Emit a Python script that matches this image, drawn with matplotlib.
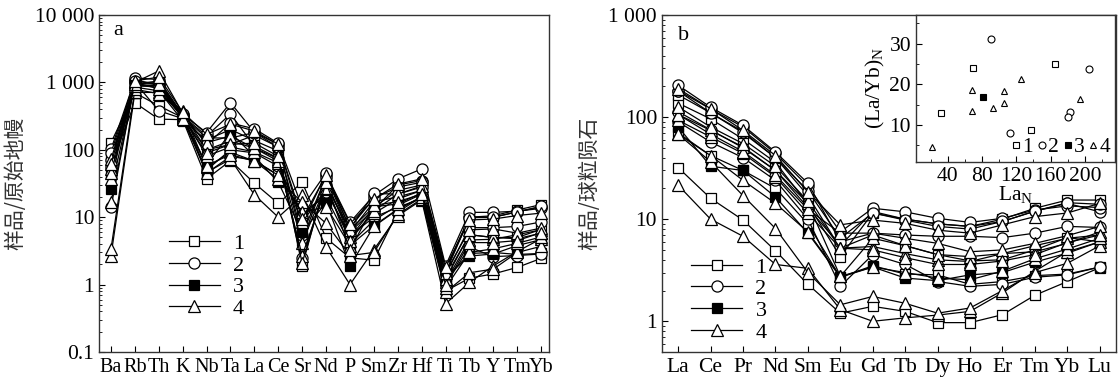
import matplotlib
matplotlib.use("Agg")
import matplotlib.pyplot as plt
from matplotlib.ticker import NullFormatter, MultipleLocator, LogLocator

plt.rcParams["font.family"] = ["Liberation Serif", "DejaVu Serif"]
plt.rcParams["mathtext.fontset"] = "custom"
plt.rcParams["mathtext.rm"] = "Liberation Serif"
plt.rcParams["mathtext.it"] = "Liberation Serif"

# ---- data -------------------------------------------------------------
spider_elems = ["Ba", "Rb", "Th", "K", "Nb", "Ta", "La", "Ce", "Sr", "Nd",
                "P", "Sm", "Zr", "Hf", "Ti", "Tb", "Y", "Tm", "Yb"]
ree_elems = ["La", "Ce", "Pr", "Nd", "Sm", "Eu", "Gd", "Tb", "Dy", "Ho",
             "Er", "Tm", "Yb", "Lu"]

# sample group (1..4) for each sample
groups = [1, 1, 1, 1, 2, 2, 2, 2, 2, 3, 4, 4, 4, 4, 4, 4, 4, 4]

# primitive-mantle normalised trace elements (panel a)
spider = [
    [60, 500, 285, 280, 37, 69, 32, 16, 33, 4.9, 2.5, 2.3, 12, 20, 0.8, 1.25, 1.44, 1.8, 2.45],
    [128, 700, 450, 300, 45, 80, 70, 42, 12, 20, 4, 9, 15, 22, 1.2, 2.9, 3.0, 2.8, 2.9],
    [45, 850, 750, 270, 140, 200, 137, 96, 1.9, 36, 5, 14, 25, 30, 1.6, 10, 10.5, 12.8, 15.4],
    [80, 900, 900, 300, 100, 120, 165, 110, 4.5, 40, 6, 17, 20, 25, 1.3, 5.5, 5, 5, 6.6],
    [14, 1000, 380, 290, 50, 100, 90, 57, 10, 24, 5.3, 10, 14, 19, 1.0, 3.6, 2.6, 2.7, 2.85],
    [102, 1100, 900, 320, 160, 340, 113, 75, 2.5, 30, 6, 13, 30, 35, 1.7, 10, 10, 12, 14.3],
    [70, 1170, 1100, 330, 180, 500, 182, 120, 8, 44, 8.4, 21, 37, 52, 1.9, 11.8, 11.8, 12.3, 13.5],
    [55, 950, 1000, 310, 150, 150, 180, 110, 5.5, 40, 7, 19, 28, 33, 1.5, 9.8, 10, 12, 14.5],
    [90, 1050, 950, 340, 120, 250, 205, 125, 14, 45.5, 6.7, 22.5, 22, 28, 1.4, 7, 7, 7.3, 8.5],
    [26, 900, 850, 300, 60, 180, 80, 33, 6, 16.5, 1.9, 7.3, 13, 20, 1.3, 2.65, 2.85, 3.8, 4.65],
    [2.7, 710, 710, 330, 46, 73, 21.5, 10, 21, 3.6, 1.0, 3.3, 10.5, 18, 0.52, 1.08, 1.9, 3.1, 4.8],
    [3.4, 790, 680, 380, 55, 92, 68, 36.5, 16.6, 8.1, 2.7, 3.0, 11, 18.6, 0.77, 1.5, 1.7, 3.0, 3.7],
    [16.6, 1000, 800, 300, 58, 85, 68, 42, 11.8, 14.3, 3.8, 7.5, 13.2, 20, 0.9, 3.0, 3.4, 4.1, 5.1],
    [37, 950, 1050, 320, 81, 110, 93, 64, 8.4, 26, 5, 11.4, 18.6, 25, 1.1, 4.6, 4.7, 5.5, 6.5],
    [52, 1000, 1480, 350, 100, 135, 106, 74, 4.2, 30, 6.5, 14.3, 15.7, 23, 1.2, 5.5, 5, 4.8, 5.8],
    [73, 880, 900, 310, 128, 160, 106, 68, 2.7, 27, 4.5, 12.5, 22, 29, 1.5, 6.5, 6.7, 5.8, 6.9],
    [45, 950, 950, 290, 90, 120, 126, 80, 2.1, 33, 3.3, 15, 17, 22, 1.0, 4.2, 4.2, 4.5, 5.9],
    [62, 1050, 1200, 360, 170, 240, 190, 121, 9.5, 42, 8, 18.5, 31, 37, 1.8, 9.1, 9.4, 10.6, 11.5],
]

# chondrite normalised REE (panel b)
ree = [
    [32, 16, 9.8, 4.9, 2.3, 1.2, 1.4, 1.25, 0.97, 0.97, 1.16, 1.8, 2.45, 3.35],
    [70, 42, 30, 20, 9, 2.7, 3.5, 2.9, 2.85, 2.3, 2.45, 2.8, 2.9, 3.4],
    [137, 96, 61, 36, 14, 4.3, 11.5, 10, 9, 8.5, 10, 12.8, 15.4, 15.4],
    [165, 110, 70, 40, 17, 5.2, 7, 5.5, 4.5, 3.9, 4.0, 5, 6.6, 6.0],
    [90, 57, 40, 24, 10, 2.2, 4.5, 3.6, 2.45, 2.2, 2.3, 2.7, 2.85, 3.4],
    [113, 75, 50, 30, 13, 5.5, 11.9, 10, 9, 8.5, 9.5, 12, 14.3, 11.8],
    [182, 120, 80, 44, 21, 7.5, 12.8, 11.8, 10.2, 9.3, 10.2, 12.3, 13.5, 13],
    [180, 110, 72, 40, 19, 6.5, 11.5, 9.8, 8.5, 8, 9.5, 12, 14.5, 14],
    [205, 125, 83, 45.5, 22.5, 6, 7.3, 7, 6.8, 6.8, 6.6, 7.3, 8.5, 8.3],
    [80, 33, 30, 16.5, 7.3, 2.7, 3.4, 2.65, 2.5, 2.85, 3.0, 3.8, 4.65, 6],
    [21.5, 10, 6.8, 3.6, 3.3, 1.3, 1.0, 1.08, 1.15, 1.25, 1.9, 3.1, 4.8, 6],
    [68, 36.5, 17, 8.1, 3.0, 1.45, 1.75, 1.5, 1.2, 1.35, 2.0, 3.0, 3.7, 5.5],
    [68, 42, 24, 14.3, 7.5, 2.75, 3.4, 3.0, 2.65, 2.55, 3.1, 4.1, 5.1, 6.5],
    [93, 64, 44, 26, 11.4, 5.2, 5.4, 4.6, 4.0, 3.85, 4.6, 5.5, 6.5, 7],
    [106, 74, 51, 30, 14.3, 2.75, 6.5, 5.5, 4.5, 4.3, 4.6, 4.8, 5.8, 7.5],
    [106, 68, 46, 27, 12.5, 7.3, 7.3, 6.5, 5.8, 4.8, 5.0, 5.8, 6.9, 8.5],
    [126, 80, 55, 33, 15, 5.2, 5.0, 4.2, 3.6, 3.6, 3.9, 4.5, 5.9, 7],
    [190, 121, 74, 42, 18.5, 8.8, 9.8, 9.1, 7.8, 7.3, 8.8, 10.6, 11.5, 14.3],
]

# inset: La_N vs (La/Yb)_N
inset_la = [32, 70, 137, 165, 90, 113, 182, 180, 205, 81,
            22, 68, 68, 93, 106, 106, 126, 194]
inset_layb = [13, 24, 8.8, 25, 31, 8.1, 13.3, 12, 23.8, 17,
              4.5, 18.6, 13.4, 14.2, 18.4, 15.3, 21.2, 16.5]

# ---- styles -------------------------------------------------------------
marker_of = {1: "s", 2: "o", 3: "s", 4: "^"}
face_of = {1: "white", 2: "white", 3: "black", 4: "white"}
size_of = {1: 7, 2: 8, 3: 7, 4: 8.5}
TICK_FS = 15.5
CJK = ["Noto Sans CJK SC", "DejaVu Sans"]

fig = plt.figure(figsize=(11.18, 3.81), dpi=100)
ax_a = fig.add_axes([0.0886, 0.0761, 0.4025, 0.8845])
ax_b = fig.add_axes([0.5921, 0.0761, 0.4061, 0.8845])


def draw_lines(ax, rows, n):
    xs = list(range(n))
    seen = set()
    for g, row in zip(groups, rows):
        lab = str(g) if g not in seen else None
        seen.add(g)
        ax.plot(xs, row, color="black", lw=0.9, marker=marker_of[g],
                ms=size_of[g], mfc=face_of[g], mec="black", mew=0.9,
                label=lab, zorder=2)


def style_main(ax):
    ax.set_yscale("log")
    ax.tick_params(which="both", direction="in", top=False, right=False,
                   labelsize=TICK_FS, colors="black")
    ax.tick_params(which="major", length=4)
    ax.tick_params(which="minor", length=2)
    ax.tick_params(axis="x", pad=4)
    for sp in ax.spines.values():
        sp.set_color("#333333")
        sp.set_linewidth(1.0)


draw_lines(ax_a, spider, len(spider_elems))
style_main(ax_a)
ax_a.set_xlim(-0.5, 18.33)
ax_a.set_ylim(0.1, 10000)
ax_a.set_xticks(range(len(spider_elems)))
ax_a.set_xticklabels(spider_elems, fontsize=14.5)
ax_a.set_yticks([0.1, 1, 10, 100, 1000, 10000])
ax_a.set_yticklabels(["0.1", "1", "10", "100", "1 000", "10 000"])
ax_a.yaxis.set_minor_locator(LogLocator(base=10, subs=range(2, 10)))
ax_a.yaxis.set_minor_formatter(NullFormatter())
ax_a.set_ylabel("样品/原始地幔", family=CJK, fontsize=15, color="#333333",
                labelpad=6)
ax_a.text(0.042, 0.953, "a", transform=ax_a.transAxes, fontsize=16,
          va="center", ha="center")
ax_a.legend(loc="center left", bbox_to_anchor=(0.11, 0.225), frameon=False,
            fontsize=16, handlelength=2.3, handletextpad=0.6,
            labelspacing=0.05)

draw_lines(ax_b, ree, len(ree_elems))
style_main(ax_b)
ax_b.set_xlim(-0.5, 13.5)
ax_b.set_ylim(0.5, 1000)
ax_b.set_xticks(range(len(ree_elems)))
ax_b.set_xticklabels(ree_elems)
ax_b.set_yticks([1, 10, 100, 1000])
ax_b.set_yticklabels(["1", "10", "100", "1 000"])
ax_b.yaxis.set_minor_locator(LogLocator(base=10, subs=range(2, 10)))
ax_b.yaxis.set_minor_formatter(NullFormatter())
ax_b.set_ylabel("样品/球粒陨石", family=CJK, fontsize=15, color="#333333",
                labelpad=6)
ax_b.text(0.048, 0.94, "b", transform=ax_b.transAxes, fontsize=16,
          va="center", ha="center")
ax_b.legend(loc="center left", bbox_to_anchor=(0.02, 0.155), frameon=False,
            fontsize=16, handlelength=2.3, handletextpad=0.6,
            labelspacing=0.05)

# ---- inset ----------------------------------------------------------------
ax_i = fig.add_axes([0.8193, 0.5756, 0.178, 0.385])
seen = set()
for g, x, y in zip(groups, inset_la, inset_layb):
    lab = str(g) if g not in seen else None
    seen.add(g)
    ax_i.plot(x, y, ls="none", marker=marker_of[g], ms=4.5 if g != 2 else 5,
              mfc=face_of[g], mec="black", mew=0.8, label=lab, zorder=3)
ax_i.set_xlim(3, 235)
ax_i.set_ylim(1, 37)
ax_i.set_xticks([40, 80, 120, 160, 200])
ax_i.set_yticks([10, 20, 30])
ax_i.xaxis.set_minor_locator(MultipleLocator(20))
ax_i.yaxis.set_minor_locator(MultipleLocator(5))
ax_i.tick_params(which="both", direction="in", top=False, right=False,
                 labelsize=TICK_FS, colors="black")
ax_i.tick_params(which="major", length=4)
ax_i.tick_params(which="minor", length=2)
for sp in ax_i.spines.values():
    sp.set_color("#333333")
    sp.set_linewidth(1.0)
ax_i.set_xlabel("La$_\\mathregular{N}$", fontsize=TICK_FS, labelpad=-1)
ax_i.set_ylabel("(La/Yb)$_\\mathregular{N}$", fontsize=TICK_FS, labelpad=2)
ax_i.legend(loc="lower right", ncol=4, frameon=False, fontsize=15.5,
            handlelength=0.4, handletextpad=0.1, columnspacing=0.2,
            borderaxespad=0.1, borderpad=0.1)

fig.savefig("out.png", dpi=100, facecolor="white")
plt.close(fig)
